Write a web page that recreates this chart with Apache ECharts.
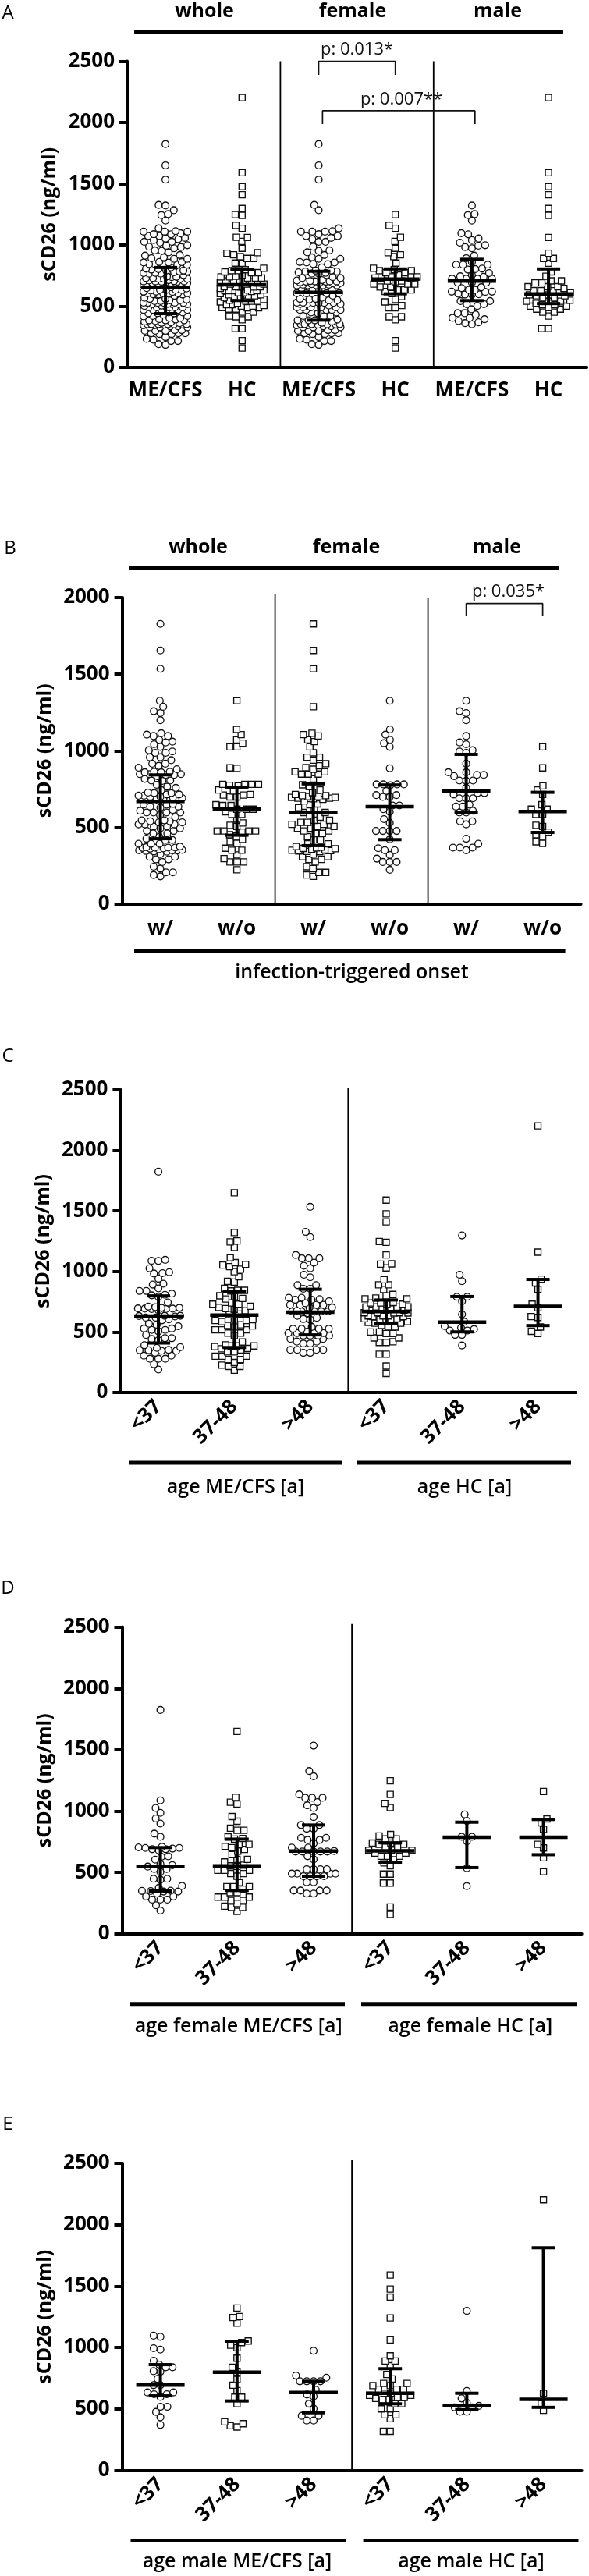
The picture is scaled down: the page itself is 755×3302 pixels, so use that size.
<!DOCTYPE html>
<html>
<head>
<meta charset="utf-8">
<title>sCD26</title>
<script src="https://cdn.jsdelivr.net/npm/echarts@6/dist/echarts.min.js"></script>
<style>
  html, body { margin: 0; padding: 0; background: #fff; }
  #main { width: 755px; height: 3302px; }
</style>
</head>
<body>
<div id="main"></div>
<script type="text/javascript">
// ---- values (sCD26, ng/ml) ----
// ME/CFS female by age (panel D)
var fY = [1824, 1088, 1026, 986, 940, 899, 817, 791, 710, 705, 700, 700, 695, 690, 690, 680, 632, 628, 605, 569, 560, 548, 529, 529, 505, 449, 449, 442, 391, 375, 352, 350, 349, 345, 345, 328, 305, 305, 279, 279, 279, 233, 190];
var fM = [1650, 1113, 1073, 1058, 956, 918, 861, 844, 844, 791, 777, 772, 730, 730, 713, 703, 688, 675, 645, 607, 607, 586, 560, 554, 550, 518, 518, 518, 491, 491, 470, 417, 385, 385, 385, 364, 336, 336, 300, 300, 300, 273, 273, 248, 226, 216, 216, 184];
var fO = [1534, 1327, 1284, 1136, 1109, 1109, 1109, 1073, 1047, 1026, 952, 887, 887, 857, 857, 783, 783, 766, 766, 738, 703, 703, 675, 671, 671, 671, 671, 671, 633, 607, 527, 527, 527, 527, 491, 491, 491, 491, 470, 470, 470, 470, 421, 421, 353, 353, 353, 353, 328, 328];
// ME/CFS male by age (panel E)
var mY = [1096, 1087, 994, 983, 892, 860, 839, 839, 807, 803, 744, 693, 693, 634, 634, 619, 619, 597, 517, 517, 475, 432, 369];
var mM = [1322, 1252, 1244, 1199, 1053, 1040, 1019, 998, 913, 839, 799, 740, 693, 648, 595, 595, 542, 394, 379, 362, 352];
var mO = [973, 771, 754, 725, 725, 725, 725, 655, 617, 602, 542, 502, 443, 443, 405, 405];
// HC female by age (panel D)
var hfY = [1248, 1136, 1063, 1029, 810, 798, 774, 774, 740, 740, 730, 730, 706, 706, 681, 681, 681, 657, 657, 633, 633, 633, 603, 579, 555, 487, 487, 414, 414, 219, 158];
var hfM = [973, 920, 791, 791, 754, 535, 389];
var hfO = [1160, 937, 905, 852, 730, 700, 620, 506];
// HC male by age (panel E)
var hmY = [1590, 1476, 1410, 1241, 1061, 932, 890, 890, 851, 780, 744, 707, 707, 690, 690, 659, 659, 659, 627, 627, 610, 610, 593, 593, 585, 573, 573, 541, 541, 500, 500, 451, 451, 420, 317, 317];
var hmM = [1298, 646, 585, 549, 524, 512, 512, 476, 476];
var hmO = [2203, 627, 541, 488];
// infection-triggered onset (panel B)
var bFw = [1828, 1655, 1535, 1287, 1114, 1105, 1096, 1071, 1059, 1025, 986, 957, 957, 938, 915, 901, 889, 879, 862, 862, 847, 847, 847, 816, 777, 765, 743, 726, 714, 706, 706, 700, 700, 695, 695, 690, 690, 686, 682, 672, 652, 647, 628, 613, 596, 596, 580, 566, 545, 545, 532, 532, 519, 519, 505, 505, 493, 493, 476, 476, 460, 460, 438, 417, 417, 392, 392, 374, 370, 365, 362, 360, 356, 352, 350, 348, 345, 342, 340, 325, 307, 307, 290, 290, 273, 242, 230, 205, 205, 188, 179];
var bFwo = [1326, 1139, 1105, 1071, 1049, 1025, 885, 780, 780, 780, 780, 774, 737, 710, 710, 698, 698, 642, 642, 618, 601, 553, 528, 476, 476, 476, 476, 421, 363, 350, 350, 319, 295, 273, 273, 273, 222];
var bMw = [1326, 1258, 1246, 1199, 1096, 1054, 1042, 1003, 995, 986, 915, 859, 859, 842, 842, 834, 805, 805, 803, 757, 723, 723, 714, 689, 689, 689, 647, 635, 635, 608, 596, 596, 539, 539, 519, 425, 392, 367, 367, 367, 350];
var bMwo = [1025, 888, 770, 743, 714, 647, 618, 618, 584, 584, 513, 505, 468, 451, 442, 405, 395];

// median and interquartile range
var medA = [653, 675, 613, 721, 705, 601], q1A = [439, 546, 386, 601, 546, 521], q3A = [816, 797, 785, 804, 883, 804];
var medB = [669, 619, 596, 635, 737, 603], q1B = [425, 448, 380, 419, 596, 466], q3B = [842, 762, 783, 776, 976, 728];
var medC = [631, 640, 663, 669, 582, 712], q1C = [409, 372, 476, 573, 501, 553], q3C = [798, 836, 853, 764, 793, 934];
var medD = [548, 554, 675, 676, 788, 788], q1D = [349, 353, 470, 584, 540, 645], q3D = [703, 772, 887, 742, 910, 932];
var medE = [693, 799, 634, 627, 529, 578], q1E = [606, 564, 468, 541, 493, 512], q3E = [860, 1051, 725, 827, 627, 1812];

var catsA = ['ME/CFS', 'HC', 'ME/CFS', 'HC', 'ME/CFS', 'HC'];
var catsB = ['w/', 'w/o', 'w/', 'w/o', 'w/', 'w/o'];
var catsAge = ['<37', '37-48', '>48', '<37', '37-48', '>48'];

// ---- panels ----
var FONT = '"Open Sans", "Noto Sans", sans-serif';
var panels = [
  { grid: { left: 163, top: 78.5, width: 589.2, height: 392.5 }, yMax: 2500, cats: catsA, rotate: 0, margin: 17,
    groups: [fY.concat(fM, fO, mY, mM, mO), hfY.concat(hfM, hfO, hmY, hmM, hmO), fY.concat(fM, fO), hfY.concat(hfM, hfO), mY.concat(mM, mO), hmY.concat(hmM, hmO)],
    shapes: ['circle', 'rect', 'circle', 'rect', 'circle', 'rect'], med: medA, q1: q1A, q3: q3A,
    dividers: [[1.5, 2500], [3.5, 2500]],
    brackets: [{ x1: 2, x2: 3, top: 2500, leg: 2389, tx: 2.5, text: 'p: 0.013*' },
               { x1: 2.05, x2: 4.04, top: 2096, leg: 1987, tx: 3.08, text: 'p: 0.007**' }] },
  { grid: { left: 156.6, top: 766, width: 588, height: 392.5 }, yMax: 2000, cats: catsB, rotate: 0, margin: 19,
    groups: [bFw.concat(bMw), bFwo.concat(bMwo), bFw, bFwo, bMw, bMwo],
    shapes: ['circle', 'rect', 'rect', 'circle', 'circle', 'rect'], med: medB, q1: q1B, q3: q3B,
    dividers: [[1.5, 2025], [3.5, 2000]],
    brackets: [{ x1: 4, x2: 5, top: 1961, leg: 1883, tx: 4.55, text: 'p: 0.035*' }] },
  { grid: { left: 154.4, top: 1397, width: 583.8, height: 388 }, yMax: 2500, cats: catsAge, rotate: 45, margin: 14,
    groups: [fY.concat(mY), fM.concat(mM), fO.concat(mO), hfY.concat(hmY), hfM.concat(hmM), hfO.concat(hmO)],
    shapes: ['circle', 'rect', 'circle', 'rect', 'circle', 'rect'], med: medC, q1: q1C, q3: q3C,
    dividers: [[2.5, 2520]], brackets: [] },
  { grid: { left: 156.5, top: 2085.6, width: 589.2, height: 393.3 }, yMax: 2500, cats: catsAge, rotate: 45, margin: 14,
    groups: [fY, fM, fO, hfY, hfM, hfO],
    shapes: ['circle', 'rect', 'circle', 'rect', 'circle', 'rect'], med: medD, q1: q1D, q3: q3D,
    dividers: [[2.5, 2525]], brackets: [] },
  { grid: { left: 156.5, top: 2773, width: 589.2, height: 393.4 }, yMax: 2500, cats: catsAge, rotate: 45, margin: 14,
    groups: [mY, mM, mO, hmY, hmM, hmO],
    shapes: ['circle', 'rect', 'circle', 'rect', 'circle', 'rect'], med: medE, q1: q1E, q3: q3E,
    dividers: [[2.5, 2525]], brackets: [] }
];

// simple beeswarm: keep the value, push the point sideways until it no longer overlaps
var DIAM = 8.8, MAXW = 28;
function swarm(vals, xc, pxX, pxY) {
  var placed = [], out = [];
  vals.slice().sort(function (a, b) { return a - b; }).forEach(function (v) {
    var y = v * pxY, blocked = [], cands = [0];
    placed.forEach(function (p) {
      var dy = Math.abs(p.y - y);
      if (dy < DIAM) {
        var w = Math.sqrt(DIAM * DIAM - dy * dy);
        blocked.push([p.x - w, p.x + w]);
        cands.push(p.x - w, p.x + w);
      }
    });
    cands.sort(function (a, b) { return Math.abs(a) - Math.abs(b); });
    var best = null;
    for (var i = 0; i < cands.length; i++) {
      var c = cands[i];
      if (Math.abs(c) > MAXW) continue;
      var ok = blocked.every(function (b) { return c <= b[0] + 1e-6 || c >= b[1] - 1e-6; });
      if (ok) { best = c; break; }
    }
    if (best === null) {
      var bestScore = -1;
      for (var c2 = -MAXW; c2 <= MAXW; c2 += 1) {
        var m = 1e9;
        placed.forEach(function (p) {
          var dy = p.y - y;
          if (Math.abs(dy) < DIAM) m = Math.min(m, Math.sqrt(dy * dy + (p.x - c2) * (p.x - c2)));
        });
        if (m > bestScore + 0.01) { bestScore = m; best = c2; }
      }
    }
    placed.push({ x: best, y: y });
    out.push([xc + best / pxX, v]);
  });
  return out;
}

function medianItem(params, api) {
  var x = api.value(0);
  var m = api.coord([x, api.value(1)]);
  var lo = api.coord([x, api.value(2)]);
  var hi = api.coord([x, api.value(3)]);
  var st = { stroke: '#000', lineWidth: 4 };
  return { type: 'group', children: [
    { type: 'line', shape: { x1: lo[0], y1: lo[1], x2: hi[0], y2: hi[1] }, style: st },
    { type: 'line', shape: { x1: m[0] - 31, y1: m[1], x2: m[0] + 31, y2: m[1] }, style: { stroke: '#000', lineWidth: 4.5 } },
    { type: 'line', shape: { x1: lo[0] - 15, y1: lo[1], x2: lo[0] + 15, y2: lo[1] }, style: st },
    { type: 'line', shape: { x1: hi[0] - 15, y1: hi[1], x2: hi[0] + 15, y2: hi[1] }, style: st }
  ] };
}

var grids = [], xAxes = [], yAxes = [], series = [];
var axisText = { fontFamily: FONT, fontWeight: 'bold', fontSize: 26, color: '#000' };

panels.forEach(function (p, k) {
  grids.push(p.grid);
  xAxes.push({
    gridIndex: k, type: 'category', data: p.cats,
    axisLine: { onZero: false, lineStyle: { color: '#000', width: 4 } },
    axisTick: { alignWithLabel: true, length: 10, lineStyle: { color: '#000', width: 4 } },
    axisLabel: Object.assign({ rotate: p.rotate, margin: p.margin, interval: 0 }, axisText)
  });
  xAxes.push({ gridIndex: k, type: 'value', min: -0.5, max: 5.5, show: false,
    axisLine: { show: false, onZero: false } });
  yAxes.push({
    gridIndex: k, type: 'value', min: 0, max: p.yMax, interval: 500,
    axisLine: { show: true, onZero: false, lineStyle: { color: '#000', width: 4 } },
    axisTick: { show: true, length: 10, lineStyle: { color: '#000', width: 4 } },
    axisLabel: Object.assign({ margin: 16, formatter: function (v) { return String(v); } }, axisText),
    splitLine: { show: false },
    name: 'sCD26 (ng/ml)', nameLocation: 'middle', nameGap: 84, nameRotate: 90,
    nameTextStyle: { fontFamily: FONT, fontWeight: 'bold', fontSize: 25, color: '#000' }
  });

  var pxX = p.grid.width / 6, pxY = p.grid.height / p.yMax;
  p.groups.forEach(function (vals, i) {
    series.push({
      type: 'scatter', xAxisIndex: 2 * k + 1, yAxisIndex: k, z: 2,
      symbol: p.shapes[i], symbolSize: p.shapes[i] === 'rect' ? 8 : 8.8,
      itemStyle: { color: '#fff', borderColor: '#111', borderWidth: 1.35, opacity: 1 },
      data: swarm(vals, i, pxX, pxY)
    });
  });

  series.push({
    type: 'custom', xAxisIndex: 2 * k + 1, yAxisIndex: k, z: 5,
    renderItem: medianItem,
    data: p.med.map(function (m, i) { return [i, m, p.q1[i], p.q3[i]]; })
  });

  // thin vertical separators between the groups
  p.dividers.forEach(function (d) {
    series.push({
      type: 'line', xAxisIndex: 2 * k + 1, yAxisIndex: k, z: 3, clip: false,
      showSymbol: false, symbol: 'none', silent: true,
      lineStyle: { color: '#000', width: 1.8 },
      data: [[d[0], 0], [d[0], d[1]]]
    });
  });

  p.brackets.forEach(function (b) {
    series.push({
      type: 'line', xAxisIndex: 2 * k + 1, yAxisIndex: k, z: 4, clip: false,
      showSymbol: false, symbol: 'none', silent: true,
      lineStyle: { color: '#111', width: 1.7 },
      data: [[b.x1, b.leg], [b.x1, b.top], [b.x2, b.top], [b.x2, b.leg]],
      markPoint: {
        symbol: 'rect', symbolSize: [1, 1], itemStyle: { color: 'rgba(0,0,0,0)' },
        label: { show: true, position: 'top', distance: 3, formatter: b.text,
          fontFamily: FONT, fontSize: 22, color: '#111' },
        data: [{ coord: [b.tx, b.top] }]
      }
    });
  });
});

// ---- headers, group bars, panel letters ----
function txt(x, y, s, size, weight) {
  return { type: 'text', x: x, y: y, silent: true,
    style: { text: s, fontFamily: FONT, fontSize: size, fontWeight: weight, fill: '#000', align: 'center', verticalAlign: 'middle' } };
}
function bar(x1, x2, y) {
  return { type: 'rect', silent: true, shape: { x: x1, y: y - 2.5, width: x2 - x1, height: 5 }, style: { fill: '#000' } };
}
var graphics = [
  txt(10, 17, 'A', 24, 'normal'), txt(13, 703, 'B', 24, 'normal'), txt(10, 1354, 'C', 24, 'normal'),
  txt(10, 2036, 'D', 24, 'normal'), txt(10, 2723, 'E', 24, 'normal'),
  txt(262, 15, 'whole', 25, 'bold'), txt(452, 15, 'female', 25, 'bold'), txt(638, 15, 'male', 25, 'bold'),
  bar(172, 722, 41),
  txt(254, 702, 'whole', 25, 'bold'), txt(444, 702, 'female', 25, 'bold'), txt(637, 702, 'male', 25, 'bold'),
  bar(165, 716, 728.5),
  bar(172, 724.6, 1218.7), txt(451, 1247, 'infection-triggered onset', 25, 600),
  bar(165, 438, 1875), bar(458, 732, 1875),
  txt(302, 1906.6, 'age ME/CFS [a]', 25, 600), txt(595.5, 1906.6, 'age HC [a]', 25, 600),
  bar(166, 442, 2568.8), bar(463, 739, 2568.8),
  txt(305.7, 2597.5, 'age female ME/CFS [a]', 25, 600), txt(602.8, 2597.5, 'age female HC [a]', 25, 600),
  bar(167.5, 443, 3256.6), bar(465.6, 741.5, 3256.6),
  txt(304, 3283.5, 'age male ME/CFS [a]', 25, 600), txt(604, 3283.5, 'age male HC [a]', 25, 600)
];

var myChart = echarts.init(document.getElementById('main'));
myChart.setOption({
  animation: false,
  backgroundColor: '#fff',
  grid: grids,
  xAxis: xAxes,
  yAxis: yAxes,
  series: series,
  graphic: graphics
});
</script>
</body>
</html>
